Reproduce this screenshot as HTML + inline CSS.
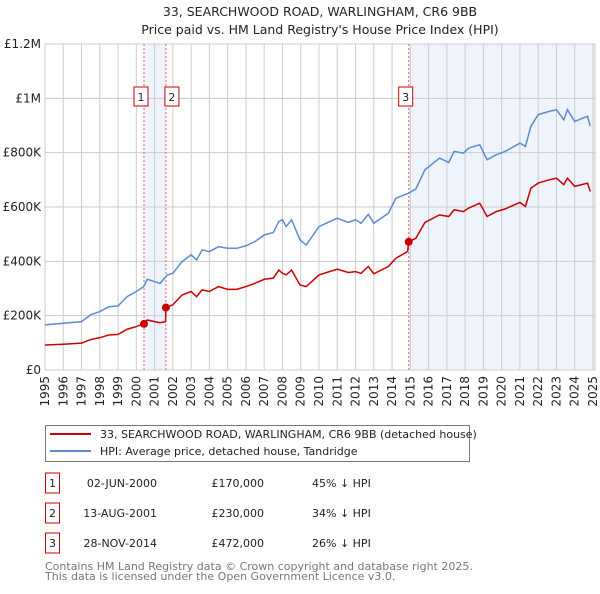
<!DOCTYPE html>
<html><head><meta charset="utf-8"><style>
body{margin:0;background:#fff;font-family:"DejaVu Sans","Liberation Sans",sans-serif;}
svg text{font-family:"DejaVu Sans","Liberation Sans",sans-serif;}
</style></head><body>
<svg id="c" width="600" height="590" xmlns="http://www.w3.org/2000/svg">
<text x="320" y="16" font-size="12.5" text-anchor="middle" fill="#222">33, SEARCHWOOD ROAD, WARLINGHAM, CR6 9BB</text>
<text x="320" y="34" font-size="12.5" text-anchor="middle" fill="#222">Price paid vs. HM Land Registry's House Price Index (HPI)</text>
<g id="plot"></g>
<g>
<rect x="45.5" y="425.5" width="424" height="36" fill="#fff" stroke="#777"/>
<line x1="50" y1="434" x2="91" y2="434" stroke="#cc0000" stroke-width="2"/>
<text x="100" y="438" font-size="11" fill="#222">33, SEARCHWOOD ROAD, WARLINGHAM, CR6 9BB (detached house)</text>
<line x1="50" y1="451" x2="91" y2="451" stroke="#5b8bd0" stroke-width="2"/>
<text x="100" y="455" font-size="11" fill="#222">HPI: Average price, detached house, Tandridge</text>
</g>
<g id="table" font-size="11" fill="#222"></g>
<text x="45" y="570" font-size="11" fill="#777">Contains HM Land Registry data © Crown copyright and database right 2025.</text>
<text x="45" y="580" font-size="11" fill="#777">This data is licensed under the Open Government Licence v3.0.</text>
</svg>
<script>
const hpiYears=[1995,1996,1997,1997.5,1998,1998.5,1999,1999.5,2000,2000.4,2000.6,2001,2001.3,2001.7,2002,2002.5,2003,2003.3,2003.6,2004,2004.5,2005,2005.5,2006,2006.5,2007,2007.5,2007.8,2008,2008.2,2008.5,2008.96,2009.3,2010,2011,2011.6,2012,2012.3,2012.7,2013,2013.8,2014.2,2014.9,2015.3,2015.8,2016.6,2017.1,2017.4,2017.9,2018.2,2018.8,2019.2,2019.7,2020.2,2021,2021.3,2021.6,2022,2022.6,2023,2023.4,2023.6,2024,2024.7,2024.85];
const hpiValues=[166,172,178,203,215,233,236,270,289,307,334,325,319,350,356,399,424,405,442,436,454,448,448,457,473,497,506,547,553,528,553,479,460,528,559,543,553,540,573,540,577,632,651,666,737,780,764,805,798,817,829,774,792,805,835,823,897,940,952,958,921,958,915,934,897];
const priceYears=[1995,1996,1997,1997.5,1998,1998.5,1999,1999.5,2000,2000.42,2000.6,2001,2001.3,2001.6,2001.62,2002,2002.5,2003,2003.3,2003.6,2004,2004.5,2005,2005.5,2006,2006.5,2007,2007.5,2007.8,2008,2008.2,2008.5,2008.96,2009.3,2010,2011,2011.6,2012,2012.3,2012.7,2013,2013.8,2014.2,2014.85,2014.91,2015.3,2015.8,2016.6,2017.1,2017.4,2017.9,2018.2,2018.8,2019.2,2019.7,2020.2,2021,2021.3,2021.6,2022,2022.6,2023,2023.4,2023.6,2024,2024.7,2024.85];
const priceValues=[92,95,99,112,119,129,131,150,160,170,184,178,174,178,230,240,276,289,270,295,289,307,297,297,307,319,334,338,368,356,350,368,313,307,350,371,359,362,356,381,354,381,411,436,472,485,543,571,565,590,583,596,614,565,583,593,617,602,669,688,700,706,682,706,676,688,657];
const saleLabels=["1","2","3"];
const saleYears=[2000.42,2001.62,2014.91];
const saleValues=[170,230,472];
const saleDates=["02-JUN-2000","13-AUG-2001","28-NOV-2014"];
const salePrices=["£170,000","£230,000","£472,000"];
const saleDiffs=["45% ↓ HPI","34% ↓ HPI","26% ↓ HPI"];
const yTicks=[0,200,400,600,800,1000,1200];
const yTickLabels=["£0","£200K","£400K","£600K","£800K","£1M","£1.2M"];
const xTicks=[1995,1996,1997,1998,1999,2000,2001,2002,2003,2004,2005,2006,2007,2008,2009,2010,2011,2012,2013,2014,2015,2016,2017,2018,2019,2020,2021,2022,2023,2024,2025];

const X0=45,X1=593,Y0=370,Y1=44;
const xs=y=>X0+(y-1995)/30*(X1-X0);
const ys=v=>Y0-v/1200*(Y0-Y1);
const NS="http://www.w3.org/2000/svg";
const plot=document.getElementById('plot');
function mk(tag,attrs,parent){const e=document.createElementNS(NS,tag);for(const k in attrs)e.setAttribute(k,attrs[k]);(parent||plot).appendChild(e);return e;}

let e;
e=mk('rect',{x:xs(saleYears[0]),y:Y1,width:xs(saleYears[1])-xs(saleYears[0]),height:Y0-Y1,fill:'#eef3fc'});


e=mk('rect',{x:xs(saleYears[2]),y:Y1,width:X1+2-xs(saleYears[2]),height:Y0-Y1,fill:'#eef3fc'});



yTicks.forEach((t,i)=>{
 e=mk('line',{x1:X0,x2:X1+2,y1:ys(t),y2:ys(t),stroke:'#ccc','stroke-width':1});
 
 
 e=mk('text',{x:X0-4,y:ys(t)+4,'font-size':12,'text-anchor':'end',fill:'#222'});
 e.textContent=yTickLabels[i];
 
 
});
xTicks.forEach(t=>{
 e=mk('line',{x1:xs(t),x2:xs(t),y1:Y1,y2:Y0,stroke:'#ccc','stroke-width':1});
 
 
 e=mk('text',{x:0,y:0,'font-size':12,'text-anchor':'end',fill:'#222',transform:`translate(${xs(t)+4},${Y0+6}) rotate(-90)`});
 e.textContent=t;
 
 
});
e=mk('rect',{x:X0,y:Y1,width:X1+2-X0,height:Y0-Y1,fill:'none',stroke:'#ccc'});



saleYears.forEach((s,i)=>{
 e=mk('line',{x1:xs(s),x2:xs(s),y1:Y1,y2:Y0,stroke:'#f06060','stroke-dasharray':'2,2','stroke-width':1});
 
 
});

e=mk('polyline',{points:hpiYears.map((y,i)=>xs(y)+','+ys(hpiValues[i])).join(' '),fill:'none',stroke:'#5b8bd0','stroke-width':1.5});


e=mk('polyline',{points:priceYears.map((y,i)=>xs(y)+','+ys(priceValues[i])).join(' '),fill:'none',stroke:'#cc0000','stroke-width':1.5});



saleYears.forEach((s,i)=>{
 e=mk('circle',{cx:xs(s),cy:ys(saleValues[i]),r:4,fill:'#cc0000'});
 
 
 const bx=xs(s)-(i==2?11:i==0?11:0)+(i==1?-4:0);
 e=mk('rect',{x:xs(s)-(i==0?10:i==1?0:10)-(i==1?0:0)+(i==1?-1:0),y:87,width:14,height:19,fill:'#fff',stroke:'#cc0000'});
 
 
 e=mk('text',{x:xs(s)-(i==1?-6:3),y:101,'font-size':11,'text-anchor':'middle',fill:'#222'});
 e.textContent=saleLabels[i];
 
 
});

const tbl=document.getElementById('table');
saleLabels.forEach((l,i)=>{
 const cy=483+i*30;
 e=mk('rect',{x:45.5,y:cy-10,width:14,height:20,fill:'#fff',stroke:'#cc0000'},tbl);
 
 
 e=mk('text',{x:52.5,y:cy+4,'text-anchor':'middle'},tbl);
 e.textContent=l;
 
 
 e=mk('text',{x:157,y:cy+4,'text-anchor':'end'},tbl);
 e.textContent=saleDates[i];
 
 
 e=mk('text',{x:264,y:cy+4,'text-anchor':'end'},tbl);
 e.textContent=salePrices[i];
 
 
 e=mk('text',{x:312,y:cy+4},tbl);
 e.textContent=saleDiffs[i];
 
 
});
</script>
</body></html>
